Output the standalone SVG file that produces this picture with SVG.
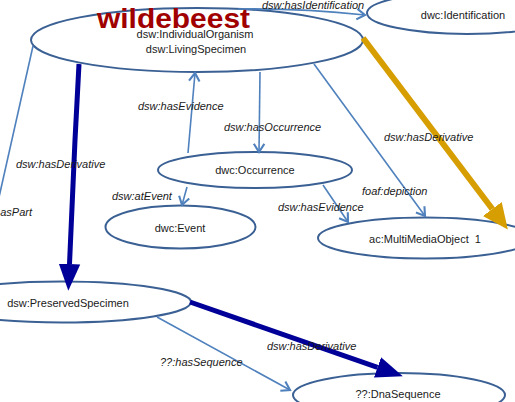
<svg xmlns="http://www.w3.org/2000/svg" width="515" height="402" viewBox="0 0 515 402">
<style>
.node ellipse{fill:#fff;stroke:#3a6094;stroke-width:2}
.nt{font-family:"Liberation Sans",Arial,sans-serif;font-size:11px;fill:#1a1a1a;text-anchor:middle}
.lbl{font-family:"Liberation Sans",Arial,sans-serif;font-size:11px;font-style:italic;fill:#1a1a1a}
.thin{fill:none;stroke:#4f81bd;stroke-width:1.6;marker-end:url(#open)}
</style>
<defs>
<marker id="open" markerUnits="userSpaceOnUse" markerWidth="14" markerHeight="14" viewBox="-8 -6 10 12" refX="0" refY="0" orient="auto"><path d="M-7,-4.5 L0,0 L-7,4.5" fill="none" stroke="#4f81bd" stroke-width="1.8"/></marker>
<marker id="navyhead" markerUnits="userSpaceOnUse" markerWidth="30" markerHeight="30" viewBox="0 -12 28 24" refX="0" refY="0" orient="auto"><path d="M0,-10 L25,0 L0,10 Z" fill="#000099"/></marker>
<marker id="orangehead" markerUnits="userSpaceOnUse" markerWidth="30" markerHeight="30" viewBox="0 -12 28 24" refX="0" refY="0" orient="auto"><path d="M0,-11 L24,0 L0,11 Z" fill="#d69e00"/></marker>
</defs>
<g id="n-organism" class="node"><ellipse cx="197" cy="40" rx="166" ry="32"/><text class="nt" x="195" y="38">dsw:IndividualOrganism</text><text class="nt" x="196" y="53">dsw:LivingSpecimen</text></g>
<g id="n-identification" class="node"><ellipse cx="467" cy="13" rx="100" ry="21"/><text class="nt" x="463" y="19">dwc:Identification</text></g>
<g id="n-occurrence" class="node"><ellipse cx="255" cy="170" rx="97" ry="18"/><text class="nt" x="255" y="174">dwc:Occurrence</text></g>
<g id="n-event" class="node"><ellipse cx="180.5" cy="227" rx="75" ry="21.5"/><text class="nt" x="180" y="232">dwc:Event</text></g>
<g id="n-mmo" class="node"><ellipse cx="425" cy="238" rx="107" ry="20.5"/><text class="nt" x="425" y="243">ac:MultiMediaObject&#160; 1</text></g>
<g id="n-preserved" class="node"><ellipse cx="62" cy="302" rx="129" ry="20.5"/><text class="nt" x="68" y="307">dsw:PreservedSpecimen</text></g>
<g id="n-dna" class="node"><ellipse cx="399" cy="395" rx="106" ry="22"/><text class="nt" x="398" y="398">??:DnaSequence</text></g>
<g id="title"><text x="97" y="28" font-family="Liberation Sans,Arial,sans-serif" font-weight="bold" font-size="28" fill="#a00000" textLength="153" lengthAdjust="spacingAndGlyphs">wildebeest</text></g>
<g id="connectors">
<path class="thin" d="M33,46 L-5,215" style="marker-end:none"/>
<path class="thin" d="M238,9 Q300,8 365,15"/>
<path class="thin" d="M188,153 L195,73"/>
<path class="thin" d="M260,72 L259,152"/>
<path class="thin" d="M314,64 L425,216"/>
<path class="thin" d="M323,185 L348,222"/>
<path class="thin" d="M187,187 L182,205"/>
<path class="thin" d="M157,317 L290,390"/>
<path d="M79,64 L75,140 L69.5,264" fill="none" stroke="#000099" stroke-width="5" marker-end="url(#navyhead)"/>
<path d="M190,302 L377.5,367.4" fill="none" stroke="#000099" stroke-width="5" marker-end="url(#navyhead)"/>
<path d="M363,38 L492.3,209" fill="none" stroke="#d69e00" stroke-width="6" marker-end="url(#orangehead)"/>
<text class="lbl" x="262" y="9">dsw:hasIdentification</text>
<text class="lbl" x="138" y="110">dsw:hasEvidence</text>
<text class="lbl" x="224" y="131">dsw:hasOccurrence</text>
<text class="lbl" x="384" y="141">dsw:hasDerivative</text>
<text class="lbl" x="16" y="168">dsw:hasDerivative</text>
<text class="lbl" x="32" y="216" text-anchor="end">dsw:hasPart</text>
<text class="lbl" x="112" y="200">dsw:atEvent</text>
<text class="lbl" x="362" y="195">foaf:depiction</text>
<text class="lbl" x="278" y="211">dsw:hasEvidence</text>
<text class="lbl" x="160" y="366">??:hasSequence</text>
<text class="lbl" x="267" y="350">dsw:hasDerivative</text>
</g>
</svg>
